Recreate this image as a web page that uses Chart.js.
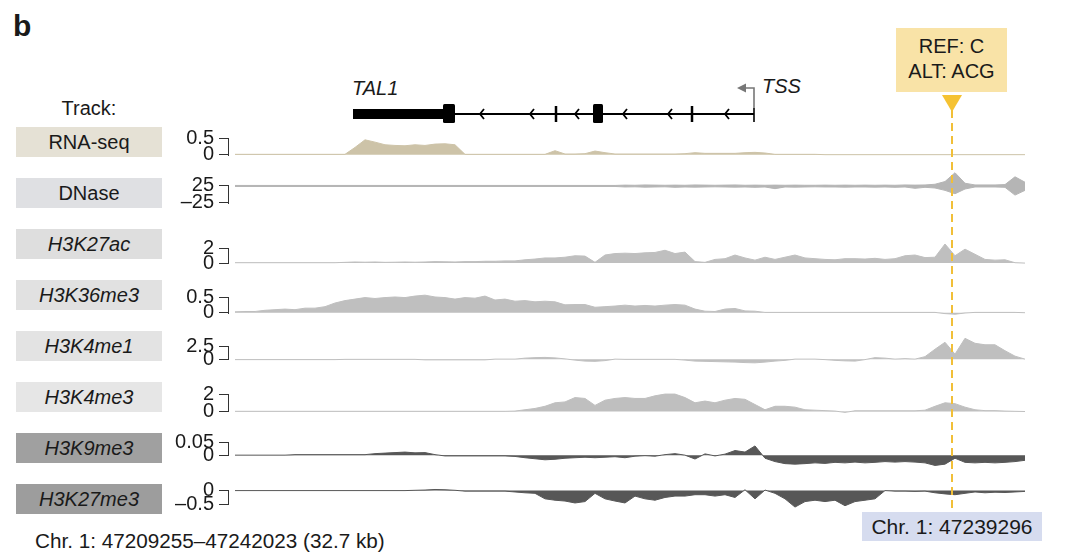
<!DOCTYPE html>
<html>
<head>
<meta charset="utf-8">
<script src="https://cdn.jsdelivr.net/npm/chart.js@4.4.1/dist/chart.umd.min.js"></script>
<style>
  body { margin: 0; background: #fff; }
  #page {
    position: relative; width: 1080px; height: 554px; overflow: hidden;
    font-family: "Liberation Sans", Arial, Helvetica, sans-serif; color: #1a1a1a;
  }
  #page canvas { position: absolute; }
  .txt { position: absolute; font-size: 20px; white-space: nowrap; }
  .lbl {
    position: absolute; left: 16px; width: 146px; height: 30px; line-height: 30px;
    text-align: center; font-size: 20px;
  }
</style>
</head>
<body>
<div id="page">
  <div class="txt" style="left:13px;top:11px;font-size:30px;font-weight:bold;line-height:30px;">b</div>
  <div class="txt" style="left:16px;width:146px;text-align:center;top:96px;line-height:24px;">Track:</div>
  <div class="txt" style="left:352px;top:76px;line-height:24px;font-style:italic;">TAL1</div>
  <div class="txt" style="left:762px;top:74px;line-height:24px;font-style:italic;">TSS</div>
  <div class="txt" style="left:896px;top:28px;width:111px;height:64px;background:#f9e3a7;text-align:center;line-height:25px;padding-top:6px;box-sizing:border-box;">REF: C<br>ALT: ACG</div>
  <div class="txt" style="left:35px;top:529px;line-height:24px;font-size:20.7px;">Chr. 1: 47209255–47242023 (32.7 kb)</div>
</div>
<script>
// bins are 10 px apart along the locus
const BINS = [
  0, 1, 2, 3, 4, 5, 6, 7, 8, 9, 10, 11, 12, 13, 14, 15, 16, 17, 18, 19,
  20, 21, 22, 23, 24, 25, 26, 27, 28, 29, 30, 31, 32, 33, 34, 35, 36, 37, 38, 39,
  40, 41, 42, 43, 44, 45, 46, 47, 48, 49, 50, 51, 52, 53, 54, 55, 56, 57, 58, 59,
  60, 61, 62, 63, 64, 65, 66, 67, 68, 69, 70, 71, 72, 73, 74, 75, 76, 77, 78, 79
];

const TRACK_NAMES = ['RNA-seq', 'DNase', 'H3K27ac', 'H3K36me3', 'H3K4me1', 'H3K4me3', 'H3K9me3', 'H3K27me3'];

const RNA_SEQ = [
  0.01, 0.01, 0.01, 0.01, 0.01, 0.01, 0.01, 0.01, 0.01, 0.01, 0.01, 0.01,
  0.22, 0.45, 0.38, 0.30, 0.28, 0.27, 0.30, 0.28, 0.32, 0.33, 0.30, 0.01,
  0.01, 0.01, 0.01, 0.01, 0.01, 0.01, 0.01, 0.01, 0.12, 0.02, 0.02, 0.03,
  0.11, 0.06, 0.02, 0.02, 0.02, 0.02, 0.02, 0.02, 0.02, 0.03, 0.06, 0.04,
  0.04, 0.04, 0.04, 0.06, 0.07, 0.05, 0.01, 0.01, 0.01, 0.01, 0.01, 0,
  0, 0, 0, 0, 0, 0, 0, 0, 0, 0, 0, 0,
  0, 0, 0, 0, 0, 0, 0, 0
];

const DNASE_UP = [
  26.5, 26.5, 26.5, 26.5, 26.5, 26.5, 26.5, 26.5, 26.5, 26.5, 26.5, 26.5,
  26.5, 26.5, 26.5, 26.5, 26.5, 26.5, 26.5, 26.5, 26.5, 26.5, 26.5, 26.5,
  26.5, 26.5, 26.5, 26.5, 26.5, 26.5, 26.5, 26.5, 26.5, 26.5, 26.5, 26.5,
  26.5, 26.5, 26.5, 27.5, 27, 28, 27.5, 27, 27.5, 27, 28, 27.5,
  27, 27.5, 28, 27, 27.5, 27, 27.5, 27, 27.5, 27, 27, 27.5,
  27, 27.5, 27, 27.5, 27, 27.5, 27, 28, 27.5, 28, 30, 38,
  64, 33, 28, 28, 28, 29, 52, 36
];
const DNASE_DOWN = [
  23.5, 23.5, 23.5, 23.5, 23.5, 23.5, 23.5, 23.5, 23.5, 23.5, 23.5, 23.5,
  23.5, 23.5, 23.5, 23.5, 23.5, 23.5, 23.5, 23.5, 23.5, 23.5, 23.5, 23.5,
  23.5, 23.5, 23.5, 23.5, 23.5, 23.5, 23.5, 23.5, 23.5, 23.5, 23.5, 23.5,
  23.5, 23.5, 23.5, 22, 22.5, 21.5, 22, 22.5, 21, 22, 21.5, 22,
  22.5, 22, 21.5, 22, 21, 22, 17, 22, 21.5, 22, 22.5, 22,
  22, 21.5, 22, 22, 21.5, 22, 21, 22, 18, 21, 19, 12,
  2, 16, 22, 22, 22, 21, -2, 12
];

const H3K27AC = [
  0.05, 0.05, 0.05, 0.05, 0.05, 0.05, 0.05, 0.05, 0.05, 0.05, 0.05, 0.10,
  0.15, 0.12, 0.15, 0.10, 0.12, 0.15, 0.12, 0.15, 0.20, 0.18, 0.15, 0.20,
  0.20, 0.25, 0.25, 0.30, 0.30, 0.45, 0.55, 0.70, 0.70, 0.80, 1.00, 0.95,
  0.10, 1.10, 1.30, 1.35, 1.30, 1.40, 1.45, 1.75, 1.30, 1.50, 0.20, 0.10,
  0.50, 0.60, 1.10, 0.70, 0.40, 0.80, 0.50, 0.80, 1.10, 0.70, 0.60, 0.50,
  0.45, 0.60, 0.60, 0.55, 0.65, 0.50, 0.60, 1.00, 1.10, 0.75, 0.80, 2.60,
  1.00, 1.90, 1.20, 0.50, 0.40, 0.45, 0.05, 0
];

const H3K36ME3 = [
  0.03, 0.04, 0.04, 0.08, 0.10, 0.12, 0.10, 0.15, 0.15, 0.20, 0.32, 0.40,
  0.45, 0.50, 0.47, 0.50, 0.52, 0.50, 0.55, 0.58, 0.52, 0.50, 0.45, 0.50,
  0.48, 0.55, 0.42, 0.45, 0.38, 0.40, 0.36, 0.38, 0.36, 0.26, 0.27, 0.27,
  0.18, 0.20, 0.22, 0.25, 0.22, 0.24, 0.22, 0.25, 0.27, 0.25, 0.12, 0.05,
  0.04, 0.12, 0.14, 0.06, 0.05, 0.01, 0.01, 0.01, 0.01, 0.01, 0.01, 0.01,
  0.01, 0.01, 0.01, 0.01, 0.01, 0.01, 0.01, 0.01, 0.01, 0.01, 0.01, -0.03,
  -0.05, -0.01, 0.01, 0.01, 0.01, 0.01, 0.01, 0
];

const H3K4ME1 = [
  -0.10, -0.10, -0.10, -0.10, -0.10, -0.10, -0.10, -0.10, -0.10, -0.10, -0.10, -0.05,
  -0.05, -0.05, -0.05, -0.05, -0.05, -0.05, -0.05, -0.15, -0.15, -0.15, -0.15, -0.15,
  -0.15, -0.15, 0, 0, 0, 0.20, 0.30, 0.35, 0.25, 0.05, -0.20, -0.40,
  -0.45, -0.30, 0, -0.05, -0.05, -0.05, -0.05, -0.05, -0.05, -0.20, -0.40, -0.45,
  -0.50, -0.55, -0.60, -0.70, -0.75, -0.60, -0.40, -0.25, 0, 0, 0, -0.10,
  -0.25, -0.35, -0.40, -0.10, 0.30, 0.20, 0, 0.10, 0, 0.50, 2.00, 3.40,
  1.00, 4.20, 3.20, 2.90, 2.90, 1.70, 0.60, 0
];

const H3K4ME3 = [
  0.02, 0.02, 0.02, 0.02, 0.02, 0.02, 0.02, 0.02, 0.02, 0.02, 0.02, 0.02,
  0.02, 0.02, 0.02, 0.02, 0.02, 0.02, 0.02, 0.02, 0.02, 0.02, 0.02, 0.02,
  0.02, 0.02, 0.02, 0.02, 0.05, 0.20, 0.35, 0.60, 1.00, 1.10, 1.60, 1.50,
  0.70, 1.30, 1.50, 1.60, 1.50, 1.50, 1.80, 2.00, 2.00, 1.60, 1.00, 1.20,
  1.00, 1.30, 1.50, 1.40, 0.80, 0.20, 0.60, 0.60, 0.50, 0.20, 0.15, 0.10,
  0.05, -0.10, 0.08, 0.08, 0.08, 0.08, 0.08, 0.08, 0.08, 0.15, 0.60, 1.00,
  0.90, 0.50, 0.20, 0.10, 0.10, 0.05, 0.02, 0
];

const H3K9ME3 = [
  0, 0, 0, 0, 0, 0, 0.002, 0.002, 0.002, 0.002, 0.002, 0.002,
  0.002, 0.002, 0.006, 0.008, 0.010, 0.012, 0.009, 0.010, 0.002, -0.003, -0.003, -0.003,
  -0.003, -0.003, -0.003, -0.003, -0.005, -0.010, -0.014, -0.018, -0.016, -0.012, -0.010, -0.008,
  -0.010, -0.008, -0.006, -0.010, -0.004, -0.002, -0.004, 0.002, 0.006, 0, -0.015, 0.005,
  -0.003, 0.004, 0.018, 0.012, 0.036, -0.012, -0.025, -0.033, -0.035, -0.033, -0.030, -0.032,
  -0.028, -0.030, -0.027, -0.030, -0.028, -0.025, -0.027, -0.025, -0.027, -0.030, -0.040, -0.035,
  -0.012, -0.028, -0.030, -0.028, -0.030, -0.028, -0.025, -0.020
];

const H3K27ME3 = [
  0, 0, 0, 0, 0, 0, 0, 0, 0, 0, 0, 0,
  0, 0, 0, 0, 0, 0, 0.01, 0.02, 0.04, 0.03, 0.01, -0.02,
  -0.02, -0.02, -0.02, -0.02, -0.05, -0.08, -0.10, -0.30, -0.35, -0.38, -0.45, -0.40,
  -0.10, -0.30, -0.38, -0.45, -0.20, -0.30, -0.35, -0.25, -0.20, -0.20, -0.15, -0.15,
  -0.20, -0.15, -0.25, 0.03, -0.30, 0.02, -0.10, -0.30, -0.60, -0.40, -0.35, -0.40,
  -0.35, -0.55, -0.40, -0.35, -0.30, 0, -0.02, -0.02, -0.03, -0.02, -0.08, -0.12,
  -0.15, -0.10, -0.05, -0.08, -0.06, -0.07, -0.05, -0.03
];

// axis tick labels per track (low, high)
const RNA_TICKS = [0, 0.5];
const DNASE_TICKS = [-25, 25];
const H3K27AC_TICKS = [0, 2];
const H3K36ME3_TICKS = [0, 0.5];
const H3K4ME1_TICKS = [0, 2.5];
const H3K4ME3_TICKS = [0, 2];
const H3K9ME3_TICKS = [0, 0.05];
const H3K27ME3_TICKS = [-0.5, 0];

// gene model of TAL1 (in bins)
const GENE_UTR = [11.8, 20.8];
const GENE_EXONS = [[20.8, 22.0], [35.8, 36.8]];
const GENE_THIN_EXONS = [32.1, 45.7];
const GENE_CHEVRONS = [24.7, 29.7, 34.2, 39.0, 43.5, 49.2];
const GENE_INTRON = [22.0, 51.9];
const GENE_TSS = 51.9;

// variant
const VARIANT_BIN = 71.7;
const VARIANT_LABEL = 'Chr. 1: 47239296';

// ---- layout / styling ----
const LIGHT = '#bfbfbf', DARK = '#575757';
const TRACKS = [
  { series: [RNA_SEQ], base: 0, ticks: RNA_TICKS, top: 127, hiPx: 137, loPx: 155, fill: '#cdc3a8', box: '#e5e1d5', italic: false },
  { series: [DNASE_UP, DNASE_DOWN], base: 25, ticks: DNASE_TICKS, top: 178, hiPx: 184.5, loPx: 203, fill: '#b5b5b5', box: '#dfe0e3', italic: false },
  { series: [H3K27AC], base: 0, ticks: H3K27AC_TICKS, top: 229, hiPx: 248, loPx: 264, fill: LIGHT, box: '#dedede', italic: true },
  { series: [H3K36ME3], base: 0, ticks: H3K36ME3_TICKS, top: 280, hiPx: 297, loPx: 313.5, fill: LIGHT, box: '#e1e1e1', italic: true },
  { series: [H3K4ME1], base: 0, ticks: H3K4ME1_TICKS, top: 331, hiPx: 346, loPx: 359.5, fill: LIGHT, box: '#e3e3e3', italic: true },
  { series: [H3K4ME3], base: 0, ticks: H3K4ME3_TICKS, top: 382, hiPx: 393, loPx: 412, fill: LIGHT, box: '#e6e6e6', italic: true },
  { series: [H3K9ME3], base: 0, ticks: H3K9ME3_TICKS, top: 433, hiPx: 441, loPx: 455, fill: DARK, box: '#a0a0a0', italic: true },
  { series: [H3K27ME3], base: 0, ticks: H3K27ME3_TICKS, top: 484, hiPx: 489, loPx: 504, fill: DARK, box: '#9d9d9d', italic: true }
];

const CANVAS_LEFT = 150, CANVAS_W = 890, AXIS_W = 79;
const X_SCALE = { type: 'linear', min: -0.6, max: 79.5, display: false };
const page = document.getElementById('page');

function fmtTick(v) {
  return v < 0 ? '\u2013' + Math.abs(v) : String(v);
}

const bracketPlugin = {
  id: 'bracket',
  afterDraw(chart) {
    const y = chart.scales.y;
    const ticks = y.ticks;
    const x = Math.round(chart.chartArea.left) - 0.5;
    const ctx = chart.ctx;
    ctx.save();
    ctx.strokeStyle = '#333';
    ctx.lineWidth = 1;
    ctx.beginPath();
    ctx.moveTo(x, Math.round(y.getPixelForValue(ticks[ticks.length - 1].value)));
    ctx.lineTo(x, Math.round(y.getPixelForValue(ticks[0].value)) + 1);
    ctx.stroke();
    ctx.restore();
  }
};

TRACKS.forEach((t, k) => {
  // label box on the left
  const lbl = document.createElement('div');
  lbl.className = 'lbl';
  lbl.style.top = t.top + 'px';
  lbl.style.background = t.box;
  lbl.style.fontStyle = t.italic ? 'italic' : 'normal';
  lbl.textContent = TRACK_NAMES[k];
  page.appendChild(lbl);

  const areaTop = t.top - 12, areaBottom = t.top + 60;
  const canvas = document.createElement('canvas');
  canvas.width = CANVAS_W;
  canvas.height = areaBottom - areaTop + 28;
  canvas.style.left = CANVAS_LEFT + 'px';
  canvas.style.top = (areaTop - 14) + 'px';
  page.appendChild(canvas);

  const lo = t.ticks[0], hi = t.ticks[1];
  const ppu = (t.loPx - t.hiPx) / (hi - lo);
  const yMax = hi + (t.hiPx - areaTop) / ppu;
  const yMin = lo - (areaBottom - t.loPx) / ppu;

  new Chart(canvas, {
    type: 'line',
    data: {
      labels: BINS,
      datasets: t.series.map(s => ({
        data: s,
        fill: { value: t.base },
        backgroundColor: t.fill,
        borderColor: t.fill,
        borderWidth: 1,
        pointRadius: 0,
        tension: 0
      }))
    },
    options: {
      responsive: false,
      animation: false,
      events: [],
      layout: { padding: { top: 14, bottom: 14, left: 0, right: 10 } },
      plugins: { legend: { display: false }, tooltip: { enabled: false } },
      scales: {
        x: X_SCALE,
        y: {
          min: yMin,
          max: yMax,
          afterBuildTicks: sc => { sc.ticks = t.ticks.map(v => ({ value: v })); },
          afterFit: sc => { sc.width = AXIS_W; },
          border: { display: false },
          grid: { drawOnChartArea: false, drawTicks: true, tickLength: 10, color: '#333', lineWidth: 1 },
          ticks: {
            autoSkip: false,
            padding: 5,
            color: '#1a1a1a',
            font: { family: '"Liberation Sans", Arial, sans-serif', size: 20 },
            callback: v => fmtTick(v)
          }
        }
      }
    },
    plugins: [bracketPlugin]
  });
});

// overlay: gene model, variant line and marker
const OVERLAY_TOP = 20;
const GENE_Y = 114 - OVERLAY_TOP;
const overlay = document.createElement('canvas');
overlay.width = CANVAS_W;
overlay.height = 520;
overlay.style.left = CANVAS_LEFT + 'px';
overlay.style.top = OVERLAY_TOP + 'px';
page.appendChild(overlay);

const genePlugin = {
  id: 'gene',
  afterDraw(chart) {
    const ctx = chart.ctx;
    const px = v => chart.scales.x.getPixelForValue(v);
    ctx.save();
    ctx.fillStyle = '#000';
    ctx.strokeStyle = '#000';
    // intron line
    ctx.lineWidth = 2;
    ctx.beginPath();
    ctx.moveTo(px(GENE_INTRON[0]), GENE_Y);
    ctx.lineTo(px(GENE_INTRON[1]), GENE_Y);
    ctx.stroke();
    // UTR
    ctx.fillRect(px(GENE_UTR[0]), GENE_Y - 5, px(GENE_UTR[1]) - px(GENE_UTR[0]), 10);
    // exons
    GENE_EXONS.forEach(e => {
      ctx.beginPath();
      ctx.roundRect(px(e[0]), GENE_Y - 10, px(e[1]) - px(e[0]), 19, 1.5);
      ctx.fill();
    });
    ctx.lineWidth = 2.5;
    GENE_THIN_EXONS.forEach(b => {
      ctx.beginPath();
      ctx.moveTo(px(b), GENE_Y - 8);
      ctx.lineTo(px(b), GENE_Y + 8);
      ctx.stroke();
    });
    // strand chevrons
    ctx.lineWidth = 1.8;
    GENE_CHEVRONS.forEach(b => {
      const cx = px(b);
      ctx.beginPath();
      ctx.moveTo(cx + 2, GENE_Y - 5);
      ctx.lineTo(cx - 2, GENE_Y);
      ctx.lineTo(cx + 2, GENE_Y + 5);
      ctx.stroke();
    });
    // TSS
    const tx = px(GENE_TSS);
    ctx.lineWidth = 1.6;
    ctx.beginPath();
    ctx.moveTo(tx, GENE_Y - 6);
    ctx.lineTo(tx, GENE_Y + 8);
    ctx.stroke();
    ctx.strokeStyle = '#777';
    ctx.fillStyle = '#777';
    ctx.beginPath();
    ctx.moveTo(tx, GENE_Y - 6);
    ctx.lineTo(tx, GENE_Y - 26);
    ctx.lineTo(tx - 9, GENE_Y - 26);
    ctx.stroke();
    ctx.beginPath();
    ctx.moveTo(tx - 17, GENE_Y - 26);
    ctx.lineTo(tx - 8, GENE_Y - 30.5);
    ctx.lineTo(tx - 8, GENE_Y - 21.5);
    ctx.closePath();
    ctx.fill();

    // variant marker
    const vx = Math.round(px(VARIANT_BIN));
    ctx.strokeStyle = '#f1bf38';
    ctx.lineWidth = 2;
    ctx.setLineDash([8, 5]);
    ctx.beginPath();
    ctx.moveTo(vx, 110 - OVERLAY_TOP);
    ctx.lineTo(vx, 512 - OVERLAY_TOP);
    ctx.stroke();
    ctx.setLineDash([]);
    ctx.fillStyle = '#f5c232';
    ctx.beginPath();
    ctx.moveTo(vx - 10, 95 - OVERLAY_TOP);
    ctx.lineTo(vx + 10, 95 - OVERLAY_TOP);
    ctx.lineTo(vx, 112 - OVERLAY_TOP);
    ctx.closePath();
    ctx.fill();
    ctx.restore();
  }
};

const geneChart = new Chart(overlay, {
  type: 'line',
  data: { labels: BINS, datasets: [] },
  options: {
    responsive: false,
    animation: false,
    events: [],
    layout: { padding: { top: 0, bottom: 0, left: AXIS_W, right: 10 } },
    plugins: { legend: { display: false }, tooltip: { enabled: false } },
    scales: { x: X_SCALE, y: { display: false, min: 0, max: 1 } }
  },
  plugins: [genePlugin]
});

// variant position box, centred under the dashed line
const vxAbs = CANVAS_LEFT + geneChart.scales.x.getPixelForValue(VARIANT_BIN);
const chrBox = document.createElement('div');
chrBox.className = 'txt';
chrBox.style.cssText += 'top:512px;width:180px;height:29px;line-height:29px;text-align:center;background:#d6dcef;font-size:21px;';
chrBox.style.left = Math.round(vxAbs - 90) + 'px';
chrBox.textContent = VARIANT_LABEL;
page.appendChild(chrBox);
</script>
</body>
</html>
